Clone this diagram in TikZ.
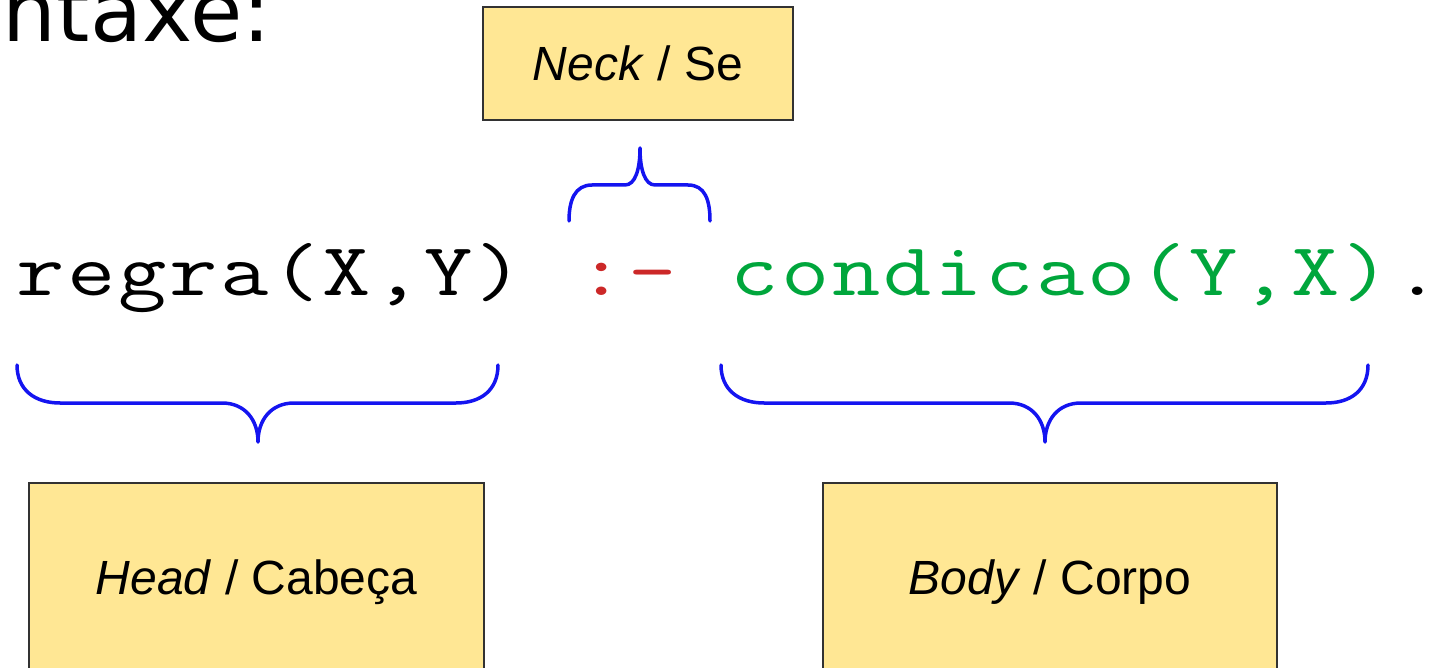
\documentclass[tikz,border=0pt]{standalone}
\usepackage{graphicx}
\usepackage{fontspec}
\setmainfont{Liberation Sans}
\newfontfamily\slidefont{DejaVu Sans}
\definecolor{boxfill}{RGB}{255,231,148}
\definecolor{boxline}{RGB}{50,50,50}
\definecolor{braceblue}{RGB}{20,20,240}
\definecolor{neckred}{RGB}{204,40,40}
\definecolor{bodygreen}{RGB}{0,166,60}
% typewriter text set on a fixed 51pt pitch, one widened character per cell
\makeatletter
\newcommand\pitched[1]{\@tfor\pch:=#1\do{\makebox[51pt]{\scalebox{1.25}[1]{\pch}}}}
\makeatother
\begin{document}
\begin{tikzpicture}[x=1pt,y=-1pt,
  labelbox/.style={draw=boxline,line width=1.2pt,fill=boxfill,inner sep=0pt,
    font=\fontsize{48}{56}\selectfont},
  code/.style={anchor=base west,inner sep=0pt,font=\ttfamily\fontsize{75}{90}\selectfont},
  bracepath/.style={draw=braceblue,line width=3.5pt,line cap=round,line join=round}]
\useasboundingbox (0,0) rectangle (1435,668);
\clip (0,0) rectangle (1435,668);

% slide title, partly outside the frame
\node[anchor=base east,inner sep=0pt,font=\slidefont\fontsize{85}{100}\selectfont]
  (title) at (271,42) {Sintaxe:};

% the clause
\node[code] (head) at (14.5,296) {\pitched{regra(X,Y)}};
\node[code,text=neckred] (neck) at (575.5,296) {\pitched{:-}};
\node[code,text=bodygreen] (body) at (728.5,296) {\pitched{condicao(Y,X)}};
\node[code] (stop) at (1391.5,296) {\pitched{.}};

% labels
\node[labelbox,minimum width=310pt,minimum height=113pt] (necklbl) at (638,63.5) {\textit{Neck} / Se};
\node[labelbox,minimum width=455pt,minimum height=198pt] (headlbl) at (256.5,582) {\textit{Head} / Cabeça};
\node[labelbox,minimum width=454pt,minimum height=198pt] (bodylbl) at (1050,582) {\textit{Body} / Corpo};

% braces
\path[bracepath] (17,365) .. controls (17,390) and (35,403) .. (60,403) -- (222,403)
  .. controls (245,403) and (258,420) .. (258,442)
  .. controls (258,420) and (271,403) .. (294,403) -- (456,403)
  .. controls (481,403) and (498,390) .. (498,365);
\path[bracepath] (721,365) .. controls (721,390) and (739,403) .. (764,403) -- (1009,403)
  .. controls (1032,403) and (1045,420) .. (1045,442)
  .. controls (1045,420) and (1058,403) .. (1081,403) -- (1326,403)
  .. controls (1351,403) and (1368,390) .. (1368,365);
\path[bracepath] (569,221) .. controls (569,200) and (575,185) .. (592,185) -- (625,185)
  .. controls (635,185) and (640,170) .. (640,148)
  .. controls (640,170) and (645,185) .. (655,185) -- (688,185)
  .. controls (705,185) and (710,200) .. (710,221);
\end{tikzpicture}
\end{document}
